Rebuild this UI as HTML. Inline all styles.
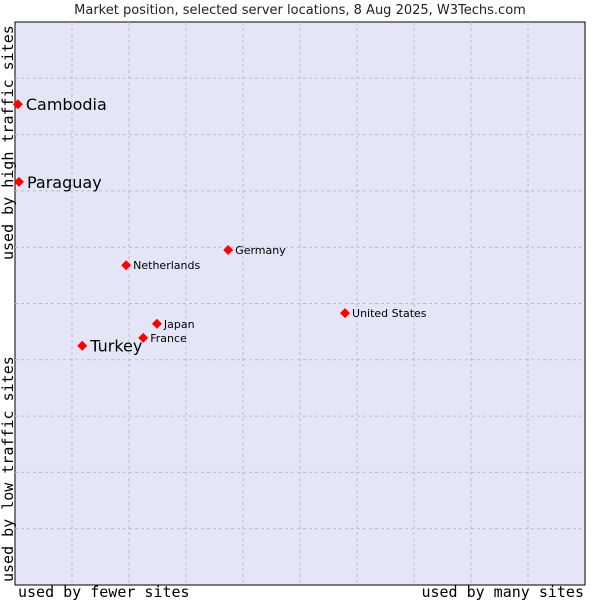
<!DOCTYPE html>
<html><head><meta charset="utf-8"><style>
body{margin:0;background:#fff}
svg{display:block}
</style></head><body>
<svg id="c" width="600" height="600" xmlns="http://www.w3.org/2000/svg">
<text x="300" y="14" text-anchor="middle" font-family="DejaVu Sans, Liberation Sans, sans-serif" font-size="13" fill="#222">Market position, selected server locations, 8 Aug 2025, W3Techs.com</text>
<rect x="15" y="22" width="570" height="563" fill="#e4e6f8" stroke="#000" stroke-width="1"/>
<g id="grid"></g>
<g id="pts"></g>
<text x="18" y="597" font-family="DejaVu Sans Mono, Liberation Mono, monospace" font-size="15" fill="#000">used by fewer sites</text>
<text x="584" y="597" text-anchor="end" font-family="DejaVu Sans Mono, Liberation Mono, monospace" font-size="15" fill="#000">used by many sites</text>
<text transform="translate(13,260) rotate(-90)" font-family="DejaVu Sans Mono, Liberation Mono, monospace" font-size="15" fill="#000">used by high traffic sites</text>
<text transform="translate(13,582) rotate(-90)" font-family="DejaVu Sans Mono, Liberation Mono, monospace" font-size="15" fill="#000">used by low traffic sites</text>
</svg>
<script>
const names=["Cambodia","Paraguay","Germany","Netherlands","United States","Japan","France","Turkey"];
const xValues=[0.5,0.7,37.4,19.5,57.9,24.9,22.5,11.8];
const yValues=[85.4,71.6,59.5,56.8,48.3,46.4,43.9,42.5];
const bigLabel=[true,true,false,false,false,false,false,true];
const L=15,R=585,T=22,B=585;
const sx=v=>L+(R-L)*v/100, sy=v=>B-(B-T)*v/100;
const ns="http://www.w3.org/2000/svg";
const g=document.getElementById('grid'),p=document.getElementById('pts');
for(let k=1;k<10;k++){
  const x=sx(k*10),y=sy(k*10);
  const a=document.createElementNS(ns,'line');
  a.setAttribute('x1',x);a.setAttribute('x2',x);a.setAttribute('y1',T);a.setAttribute('y2',B);
  a.setAttribute('stroke','#bcbcc4');a.setAttribute('stroke-dasharray','3,3');
  
  
  g.appendChild(a);
  const b=document.createElementNS(ns,'line');
  b.setAttribute('x1',L);b.setAttribute('x2',R);b.setAttribute('y1',y);b.setAttribute('y2',y);
  b.setAttribute('stroke','#bcbcc4');b.setAttribute('stroke-dasharray','3,3');
  
  
  g.appendChild(b);
}
names.forEach((n,i)=>{
  const x=sx(xValues[i]),y=sy(yValues[i]);
  const d=document.createElementNS(ns,'path');
  d.setAttribute('d',`M${x-5},${y}L${x},${y-5}L${x+5},${y}L${x},${y+5}Z`);
  d.setAttribute('fill','#f00');
  
  
  p.appendChild(d);
  const t=document.createElementNS(ns,'text');
  t.setAttribute('x',x+(bigLabel[i]?8:7));
  t.setAttribute('y',y+(bigLabel[i]?6:4));
  t.setAttribute('font-family','DejaVu Sans, Liberation Sans, sans-serif');
  t.setAttribute('font-size',bigLabel[i]?16:11);
  t.setAttribute('fill','#000');
  t.textContent=n;
  
  
  p.appendChild(t);
});
</script>
</body></html>
